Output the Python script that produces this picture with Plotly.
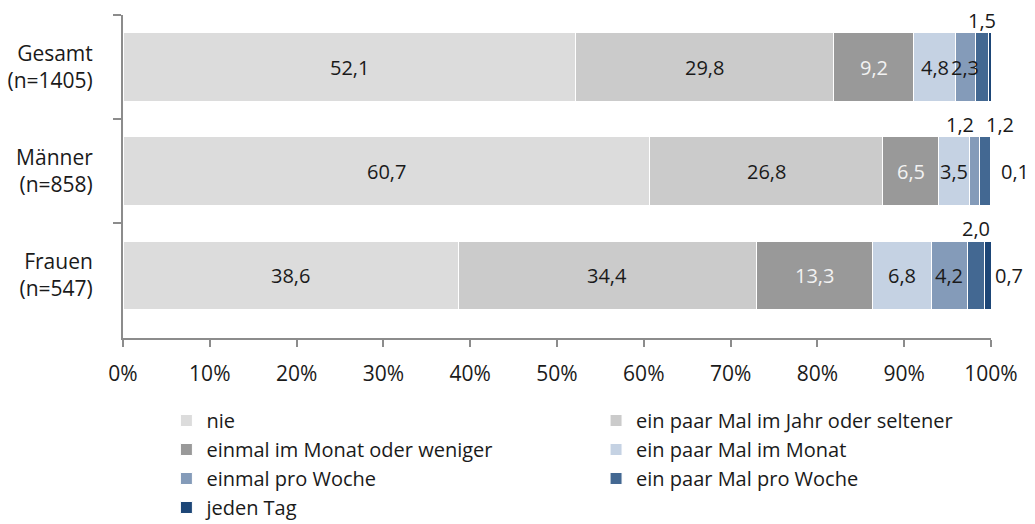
import plotly.graph_objects as go

categories = ["Gesamt", "Männer", "Frauen"]
category_labels = ["Gesamt<br>(n=1405)", "Männer<br>(n=858)", "Frauen<br>(n=547)"]
series_names = [
    "nie",
    "ein paar Mal im Jahr oder seltener",
    "einmal im Monat oder weniger",
    "ein paar Mal im Monat",
    "einmal pro Woche",
    "ein paar Mal pro Woche",
    "jeden Tag",
]
nie = [52.1, 60.7, 38.6]
paar_jahr = [29.8, 26.8, 34.4]
einmal_monat = [9.2, 6.5, 13.3]
paar_monat = [4.8, 3.5, 6.8]
einmal_woche = [2.3, 1.2, 4.2]
paar_woche = [1.5, 1.2, 2.0]
jeden_tag = [0.4, 0.1, 0.7]
series_values = [nie, paar_jahr, einmal_monat, paar_monat, einmal_woche, paar_woche, jeden_tag]

colors = ["#DCDCDC", "#CBCBCB", "#999999", "#C5D2E3", "#849BB9", "#436892", "#1D4677"]
legend_ids = ["legend", "legend2", "legend", "legend2", "legend", "legend2", "legend"]

FONT = "Open Sans"
fig = go.Figure()
for name, vals, col, lg in zip(series_names, series_values, colors, legend_ids):
    fig.add_trace(go.Bar(
        y=category_labels, x=vals, name=name, orientation="h",
        marker=dict(color=col, line=dict(color="white", width=1)),
        legend=lg, hoverinfo="skip",
    ))

# label placement (style only)
placement = {
    (0, 5): ("above", 0), (0, 6): ("right", 0),
    (1, 4): ("above", -15), (1, 5): ("above", 15), (1, 6): ("right", 6),
    (2, 5): ("above", 0), (2, 6): ("right", 0),
}

LBL = 20
annotations = []
for ci, cat in enumerate(category_labels):
    start = 0.0
    for si, vals in enumerate(series_values):
        v = vals[ci]
        txt = f"{v:.1f}".replace(".", ",")
        mode, xs = placement.get((ci, si), ("inside", 0))
        color = "#F2F2F2" if si == 2 else "#1A1A1A"
        if mode == "inside":
            annotations.append(dict(x=start + v / 2, y=cat, text=txt, showarrow=False,
                                    xanchor="center", yanchor="middle",
                                    font=dict(color=color, size=LBL, family=FONT)))
        elif mode == "above":
            annotations.append(dict(x=start + v / 2, y=cat, text=txt, showarrow=False,
                                    xanchor="center", yanchor="middle", xshift=xs, yshift=47,
                                    font=dict(color="#1A1A1A", size=LBL, family=FONT)))
        else:
            annotations.append(dict(x=start + v, y=cat, text=txt, showarrow=False,
                                    xanchor="left", yanchor="middle", xshift=2 + xs,
                                    font=dict(color="#1A1A1A", size=LBL, family=FONT)))
        start += v

fig.update_layout(
    barmode="stack",
    bargap=0.34,
    width=1035, height=524,
    margin=dict(l=123, r=44, t=15, b=186, autoexpand=False),
    paper_bgcolor="white", plot_bgcolor="white",
    font=dict(family=FONT, size=21, color="#1A1A1A"),
    annotations=annotations,
    legend=dict(x=0.05, y=-0.195, xanchor="left", yanchor="top", orientation="v",
                font=dict(size=20, family=FONT), itemwidth=30, bgcolor="rgba(0,0,0,0)",
                traceorder="normal", tracegroupgap=0),
    legend2=dict(x=0.545, y=-0.195, xanchor="left", yanchor="top", orientation="v",
                 font=dict(size=20, family=FONT), itemwidth=30, bgcolor="rgba(0,0,0,0)",
                 traceorder="normal", tracegroupgap=0),
    xaxis=dict(range=[0, 100], dtick=10, tick0=0, ticksuffix="%", showgrid=False,
               zeroline=False, showline=True, linecolor="#8C8C8C", linewidth=2,
               ticks="outside", ticklen=7, tickwidth=2, tickcolor="#8C8C8C",
               tickfont=dict(size=21, family=FONT), ticklabelstandoff=9,
               automargin=False, fixedrange=True),
    yaxis=dict(autorange="reversed", showgrid=False, zeroline=False, showline=True,
               linecolor="#8C8C8C", linewidth=2, ticks="outside", ticklen=8, tickwidth=2,
               tickcolor="#8C8C8C", tickson="boundaries",
               tickfont=dict(size=21, family=FONT), ticklabelstandoff=24,
               automargin=False, fixedrange=True),
    showlegend=True,
)

fig.write_html("out.html", config={"displayModeBar": False},
               post_script="document.body.style.margin='0';")
